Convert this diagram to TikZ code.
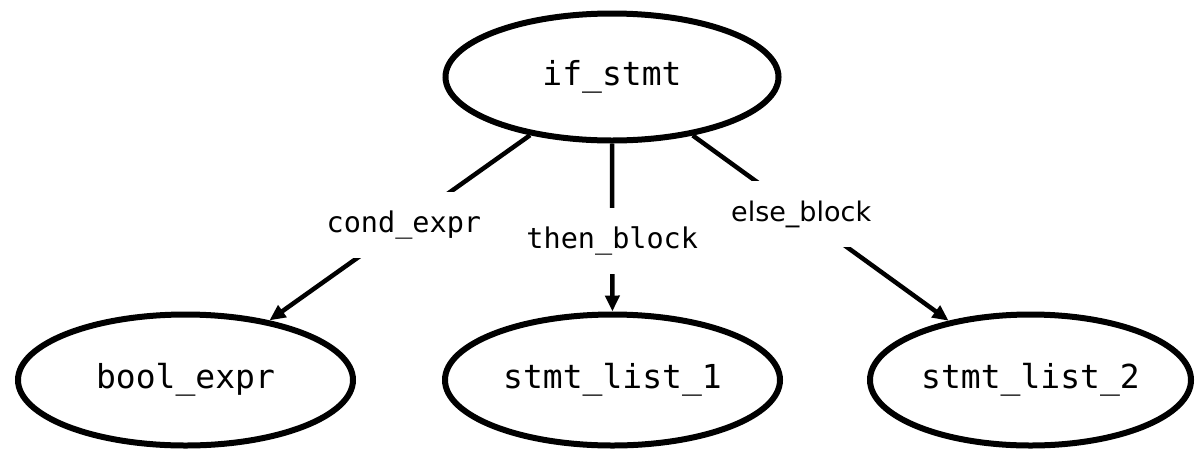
\documentclass[tikz,border=0pt]{standalone}
\usepackage{fontspec}
\usetikzlibrary{shapes.geometric,arrows.meta,calc}
\newfontfamily\nodefont{DejaVu Sans Mono}
\newfontfamily\labsans{DejaVu Sans}
\begin{document}
\begin{tikzpicture}[x=1pt,y=-1pt,
  ast/.style={ellipse, draw, line width=6pt, minimum width=333pt, minimum height=127pt, inner sep=0pt,
              font=\nodefont\fontsize{33}{40}\selectfont},
  link/.style={line width=4.5pt, -{Triangle[length=16pt,width=14pt]}},
  lab/.style={fill=white, inner xsep=4pt, inner ysep=0pt, minimum height=66pt,
              font=\nodefont\fontsize{28.5}{34}\selectfont}]
\useasboundingbox (0,0) rectangle (1196,448);
\node[ast] (top) at (612,77) {if\_stmt};
\node[ast, minimum width=335pt, minimum height=131pt] (bl) at (185.5,380) {bool\_expr};
\node[ast, minimum width=335pt, minimum height=131pt] (mid) at (612.5,380) {stmt\_list\_1};
\node[ast, minimum width=321pt, minimum height=131pt] (br) at (1030.5,380) {stmt\_list\_2};
\draw[link] (top) -- (bl);
\draw[link] (top) -- (mid);
\draw[link] (top) -- (br);
\node[lab] (l1) at ($(top)!0.488!(bl)$) {cond\_expr};
\node[lab] (l2) at ($(top)!0.541!(mid)$) {then\_block};
\node[lab, font=\labsans\fontsize{27}{32}\selectfont] (l3) at ($(top)!0.452!(br)$) {else\_block};
\end{tikzpicture}
\end{document}
